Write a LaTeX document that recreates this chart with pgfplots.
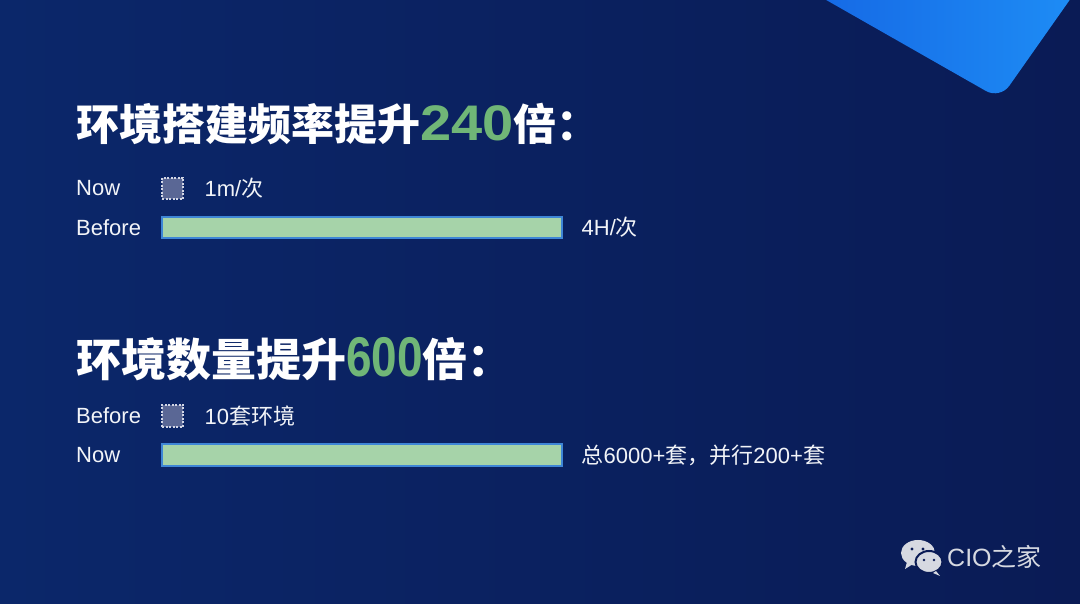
\documentclass[border=0pt]{standalone}
\usepackage{pgfplots}
\pgfplotsset{compat=1.18}
\usepackage{graphicx}
\usepackage{fontspec}
\setmainfont{Liberation Sans}
\newfontfamily\cjk{Noto Sans CJK SC}

\definecolor{bgL}{HTML}{0B276A}
\definecolor{bgR}{HTML}{0A1B55}
\definecolor{triL}{HTML}{1462E2}
\definecolor{triR}{HTML}{1E8FF6}
\definecolor{boxfill}{HTML}{5A6795}
\definecolor{boxedge}{HTML}{D2D6E6}
\definecolor{barfill}{HTML}{A6D3A9}
\definecolor{baredge}{HTML}{3E86D6}
\definecolor{labelc}{HTML}{F2F4F8}
\definecolor{tgreen}{HTML}{70B677}
\definecolor{logoc}{HTML}{D6D9E1}

% sizes in bp: 1bp = 1 pixel of the 1080x604 reference
\newcommand\lblfont{\fontsize{22bp}{26bp}\selectfont}
\pgfplotsset{
  rowpair/.style={
    scale only axis, width=400bp, height=78bp,
    xmin=0, xmax=400, ymin=-0.5, ymax=1.5,
    axis line style={draw=none}, xtick=\empty,
    ytick={0,1}, major tick length=0pt,
    yticklabel style={anchor=west, xshift=-86bp, inner sep=0pt,
                      font=\lblfont, text=labelc},
    clip=false,
  },
  smallbox/.style={xbar, bar shift=0pt, fill=boxfill, draw=boxedge,
    line width=1.1bp, dash pattern=on 2bp off 1.5bp},
  longbar/.style={xbar, bar shift=0pt, fill=barfill, draw=baredge,
    line width=1.4bp},
  valuelbl/.style={every node near coord/.append style={anchor=west,
    inner sep=0pt, xshift=#1, font=\lblfont, text=labelc, solid}},
}

\begin{document}
\begin{tikzpicture}[x=1bp,y=1bp]
\path[use as bounding box] (0,0) rectangle (1080,604);
\shade[left color=bgL, right color=bgR] (0,0) rectangle (1080,604);
\begin{scope}
  \clip (0,0) rectangle (1080,604);
  \shade[left color=triL, right color=triR, rounded corners=16bp]
    (763,640) -- (1000,505) -- (1095,640) -- cycle;
\end{scope}

% titles
\node[anchor=base west, inner sep=0pt, text=white] at (76,463)
  {\fontsize{43bp}{50bp}\selectfont\cjk\bfseries 环境搭建频率提升%
   {\fontsize{50bp}{50bp}\selectfont\rmfamily\bfseries\color{tgreen}\scalebox{1.12}[1]{240}}%
   倍：};
\node[anchor=base west, inner sep=0pt, text=white] at (76,227)
  {\fontsize{45bp}{50bp}\selectfont\cjk\bfseries 环境数量提升%
   {\fontsize{56bp}{56bp}\selectfont\rmfamily\bfseries\color{tgreen}\scalebox{0.82}[1]{600}}%
   倍：};

% first pair: build time
\begin{axis}[rowpair, at={(162bp,357bp)}, anchor=south west,
             yticklabels={Before,Now}]
  \addplot[smallbox, bar width=21bp, nodes near coords={1m/{\cjk 次}},
           valuelbl=21bp] coordinates {(21,1)};
  \addplot[longbar, bar width=21bp, nodes near coords={4H/{\cjk 次}},
           valuelbl=19bp] coordinates {(400,0)};
\end{axis}

% second pair: number of environments
\begin{axis}[rowpair, at={(162bp,129.5bp)}, anchor=south west,
             yticklabels={Now,Before}]
  \addplot[smallbox, bar width=22bp, nodes near coords={10{\cjk 套环境}},
           valuelbl=21bp] coordinates {(21,1)};
  \addplot[longbar, bar width=22bp,
           nodes near coords={{\cjk 总}6000+{\cjk 套，并行}200+{\cjk 套}},
           valuelbl=19bp] coordinates {(400,0)};
\end{axis}

% watermark
\fill[logoc] (918,51) ellipse [x radius=17, y radius=13];
\fill[logoc] (907,42) -- (905,35) -- (913,40) -- cycle;
\fill[logoc, draw=bgR, line width=2bp] (929,42) ellipse [x radius=13.5, y radius=11];
\fill[logoc] (936,33) -- (940,28) -- (933,31) -- cycle;
\fill[bgR] (912,55) circle (1.6) (923,55) circle (1.6)
           (924,44) circle (1.4) (934,44) circle (1.4);
\node[anchor=base west, inner sep=0pt, text=logoc] at (947,37)
  {\fontsize{25bp}{30bp}\selectfont CIO{\cjk 之家}};
\end{tikzpicture}
\end{document}
